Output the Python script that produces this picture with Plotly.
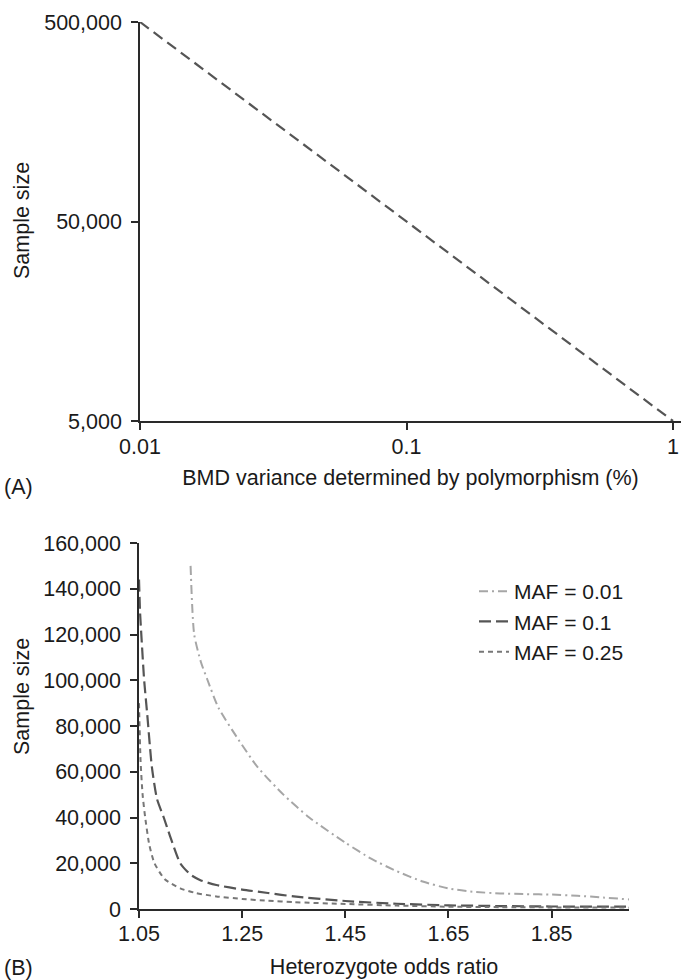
import plotly.graph_objects as go

W, H = 681, 980

# ---- Panel A data ----
variance_pct = [0.01, 0.1, 1]
sample_size_a = [500000, 50000, 5000]
a_yticks = [5000, 50000, 500000]
a_yticktext = ["5,000", "50,000", "500,000"]
a_xticks = [0.01, 0.1, 1]
a_xticktext = ["0.01", "0.1", "1"]

# ---- Panel B data ----
or_maf001 = [1.15, 1.157, 1.17, 1.183, 1.204, 1.24, 1.28, 1.33, 1.38, 1.45, 1.5, 1.55,
             1.6, 1.65, 1.7, 1.75, 1.8, 1.85, 1.9, 1.95, 2.0]
n_maf001 = [150000, 120000, 108000, 100000, 88000, 75000, 62000, 50000, 40000, 29000, 22000,
            16500, 12000, 9000, 7500, 6800, 6500, 6300, 5800, 5000, 4200]

or_maf01 = [1.05, 1.052, 1.055, 1.06, 1.066, 1.075, 1.085, 1.098, 1.11, 1.13, 1.15, 1.17,
            1.2, 1.25, 1.3, 1.35, 1.45, 1.55, 1.65, 1.75, 1.85, 2.0]
n_maf01 = [144000, 130000, 118000, 100000, 85000, 62000, 48000, 40000, 32000, 20000, 15000,
           12500, 10500, 8500, 7000, 5500, 3500, 2300, 1600, 1300, 1100, 1000]

or_maf025 = [1.05, 1.053, 1.057, 1.062, 1.07, 1.08, 1.1, 1.13, 1.16, 1.2, 1.25, 1.3, 1.35,
             1.45, 1.55, 1.65, 1.75, 1.85, 2.0]
n_maf025 = [90000, 65000, 50000, 40000, 28000, 20000, 13000, 9000, 7000, 5500, 4400, 3600,
            3000, 2200, 1500, 1000, 800, 700, 600]

b_xticks = [1.05, 1.25, 1.45, 1.65, 1.85]
b_xticktext = ["1.05", "1.25", "1.45", "1.65", "1.85"]
b_yticks = [0, 20000, 40000, 60000, 80000, 100000, 120000, 140000, 160000]
b_yticktext = ["0", "20,000", "40,000", "60,000", "80,000", "100,000", "120,000", "140,000", "160,000"]

FONT = "Liberation Sans, Arial, sans-serif"
FS = 21.5
TXT = "#1a1a1a"
AXC = "#2a2a2a"


def px_x(p):
    return p / W


def px_y(p):
    return 1 - p / H


fig = go.Figure()

fig.add_trace(go.Scatter(x=variance_pct, y=sample_size_a, mode="lines",
                         line=dict(color="#555555", width=2.2, dash="11px,6px"),
                         showlegend=False, xaxis="x", yaxis="y"))

fig.add_trace(go.Scatter(x=or_maf001, y=n_maf001, mode="lines", name="MAF = 0.01",
                         line=dict(color="#a6a6a6", width=2, dash="9px,4px,2px,4px",
                                   shape="spline", smoothing=0.6),
                         xaxis="x2", yaxis="y2"))
fig.add_trace(go.Scatter(x=or_maf01, y=n_maf01, mode="lines", name="MAF = 0.1",
                         line=dict(color="#555555", width=2.2, dash="12px,5px",
                                   shape="spline", smoothing=0.6),
                         xaxis="x2", yaxis="y2"))
fig.add_trace(go.Scatter(x=or_maf025, y=n_maf025, mode="lines", name="MAF = 0.25",
                         line=dict(color="#777777", width=2, dash="5px,4px",
                                   shape="spline", smoothing=0.6),
                         xaxis="x2", yaxis="y2"))

axis_common = dict(showline=True, linecolor=AXC, linewidth=1.6, ticks="outside", ticklen=7,
                   tickwidth=1.6, tickcolor=AXC, showgrid=False, zeroline=False,
                   tickfont=dict(family=FONT, size=FS, color=TXT), automargin=False,
                   title_font=dict(family=FONT, size=FS, color=TXT))

fig.update_layout(
    width=W, height=H,
    margin=dict(l=0, r=0, t=0, b=0),
    paper_bgcolor="white", plot_bgcolor="white",
    font=dict(family=FONT, size=FS, color=TXT),
    xaxis=dict(axis_common, type="log", domain=[px_x(140), 1.0], range=[-2, 0.03],
               tickvals=a_xticks, ticktext=a_xticktext, anchor="y",
               ticklabelstandoff=-2,
               title=dict(text="BMD variance determined by polymorphism (%)", standoff=12)),
    yaxis=dict(axis_common, type="log", domain=[px_y(421), px_y(22)],
               range=[3.69897, 5.69897], tickvals=a_yticks, ticktext=a_yticktext, anchor="x",
               ticklabelstandoff=5),
    xaxis2=dict(axis_common, domain=[px_x(139), px_x(629)], range=[1.05, 2.0],
                tickvals=b_xticks, ticktext=b_xticktext, anchor="y2",
                ticklabelstandoff=-3,
                title=dict(text="Heterozygote odds ratio", standoff=14)),
    yaxis2=dict(axis_common, domain=[px_y(909), px_y(543)], range=[0, 160000],
                tickvals=b_yticks, ticktext=b_yticktext, anchor="x2",
                ticklabelstandoff=5),
    legend=dict(x=px_x(474), y=px_y(571), xanchor="left", yanchor="top",
                font=dict(family=FONT, size=21, color=TXT),
                bgcolor="rgba(0,0,0,0)", itemwidth=30, tracegroupgap=0),
    annotations=[
        dict(text="Sample size", x=px_x(22), y=px_y(221), xref="paper", yref="paper",
             xanchor="center", yanchor="middle", textangle=-90, showarrow=False,
             font=dict(family=FONT, size=FS, color=TXT)),
        dict(text="Sample size", x=px_x(22), y=px_y(697), xref="paper", yref="paper",
             xanchor="center", yanchor="middle", textangle=-90, showarrow=False,
             font=dict(family=FONT, size=FS, color=TXT)),
        dict(text="(A)", x=px_x(2), y=px_y(487), xref="paper", yref="paper",
             xanchor="left", yanchor="middle", showarrow=False,
             font=dict(family=FONT, size=FS, color=TXT)),
        dict(text="(B)", x=px_x(2), y=px_y(968), xref="paper", yref="paper",
             xanchor="left", yanchor="middle", showarrow=False,
             font=dict(family=FONT, size=FS, color=TXT)),
    ],
)

fig.write_html("out.html", config={"displayModeBar": False},
               post_script="document.body.style.margin='0';")
